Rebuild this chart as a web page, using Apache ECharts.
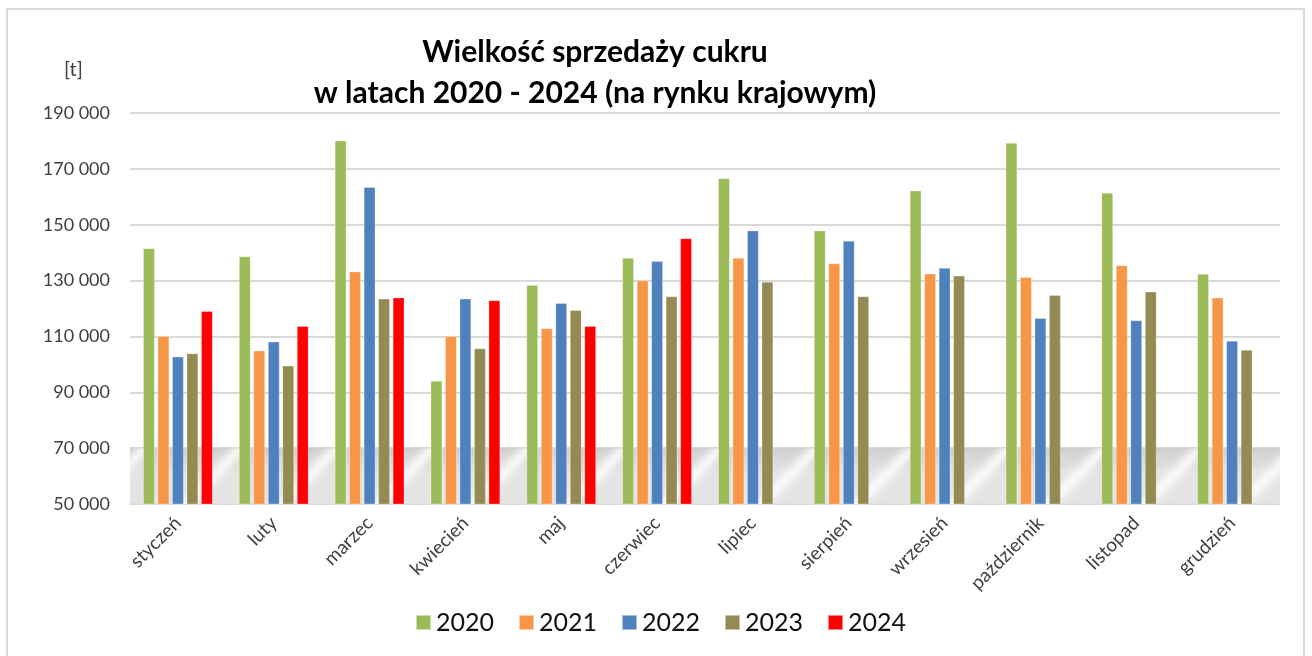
<!DOCTYPE html>
<html>
<head>
<meta charset="utf-8">
<script src="https://cdn.jsdelivr.net/npm/echarts@6/dist/echarts.min.js"></script>
<style>
html,body{margin:0;padding:0;background:#fff;}
#frame{position:absolute;left:6px;top:8px;width:1299px;height:660px;border:2px solid #d9d9d9;box-sizing:border-box;}
#chart{position:absolute;left:0;top:0;width:1312px;height:656px;}
</style>
</head>
<body>
<div id="frame"></div>
<div id="chart"></div>
<script>
const months = ['styczeń','luty','marzec','kwiecień','maj','czerwiec','lipiec','sierpień','wrzesień','październik','listopad','grudzień'];
const years = ['2020','2021','2022','2023','2024'];
const colors = ['#9bbb59','#f79646','#4f81bd','#948a54','#ff0000'];
const s2020 = [141500,138600,180100,94100,128400,138100,166600,147900,162200,179300,161400,132400];
const s2021 = [110100,104900,133200,110100,112900,130000,138100,136100,132500,131200,135400,123900];
const s2022 = [102700,108100,163400,123500,121900,136900,147900,144200,134500,116500,115700,108400];
const s2023 = [103900,99500,123500,105700,119400,124300,129500,124300,131700,124800,126000,105200];
const s2024 = [119000,113700,123900,122900,113700,145100,null,null,null,null,null,null];
const seriesData = [s2020,s2021,s2022,s2023,s2024];
const yTicks = {min:50000, max:190000, interval:20000};

function fmt(v){ return String(v).replace(/\B(?=(\d{3})+(?!\d))/g,' '); }

// soft diagonal shading pattern for the floor band
const PW = 96, PH = 56;
const pc = document.createElement('canvas');
pc.width = PW; pc.height = PH;
const ctx = pc.getContext('2d');
const img = ctx.createImageData(PW, PH);
for (let y=0; y<PH; y++){
  for (let x=0; x<PW; x++){
    const t = y/(PH-1);
    let base = 200 + 24*Math.min(1, t*2.2);
    let ph = (((x + y*1.0) % PW) + PW) % PW / PW;
    let d = Math.abs(ph - 0.5);
    let streak = Math.exp(-(d*d)/(2*0.07*0.07));
    let v = base + (252 - base)*streak*0.8;
    const i = (y*PW + x)*4;
    img.data[i]=v; img.data[i+1]=v; img.data[i+2]=v; img.data[i+3]=255;
  }
}
ctx.putImageData(img,0,0);

const chart = echarts.init(document.getElementById('chart'));
const FONT = 'Lato';
const series = years.map((y,i)=>({
  name:y, type:'bar', data:seriesData[i], barWidth:11.5, barGap:'26%',
  itemStyle:{color:colors[i], borderColor:'rgba(255,255,255,0.5)', borderWidth:0.6},
  z:3
}));
series[0].markArea = {
  silent:true, z:1,
  itemStyle:{color:{image:pc, repeat:'repeat'}, opacity:0.85},
  data:[[{yAxis:50000},{yAxis:70000}]]
};
chart.setOption({
  animation:false,
  title:{
    text:'Wielkość sprzedaży cukru\nw latach 2020 - 2024 (na rynku krajowym)',
    left:590, top:27, textAlign:'center',
    textStyle:{fontFamily:FONT, fontWeight:'bold', fontSize:30, lineHeight:41, color:'#000'}
  },
  graphic:[{type:'text', left:64, top:60, style:{text:'[t]', font:'20px Lato', fill:'#404040'}}],
  legend:{
    data:years, bottom:16, left:410, itemWidth:15, itemHeight:15, itemGap:24,
    icon:'rect', textStyle:{fontFamily:FONT, fontSize:25, color:'#111'}
  },
  grid:{left:130, right:32, top:113, bottom:152},
  xAxis:{
    type:'category', data:months,
    axisLine:{lineStyle:{color:'#d9d9d9', width:2}},
    axisTick:{show:false},
    axisLabel:{rotate:45, margin:16, fontFamily:FONT, fontSize:19, color:'#404040', interval:0}
  },
  yAxis:{
    type:'value', min:yTicks.min, max:yTicks.max, interval:yTicks.interval,
    axisLine:{show:false}, axisTick:{show:false},
    splitLine:{lineStyle:{color:'#d9d9d9', width:2}},
    axisLabel:{margin:20, fontFamily:FONT, fontSize:18, color:'#404040', formatter:fmt}
  },
  series:series
});
</script>
</body>
</html>
